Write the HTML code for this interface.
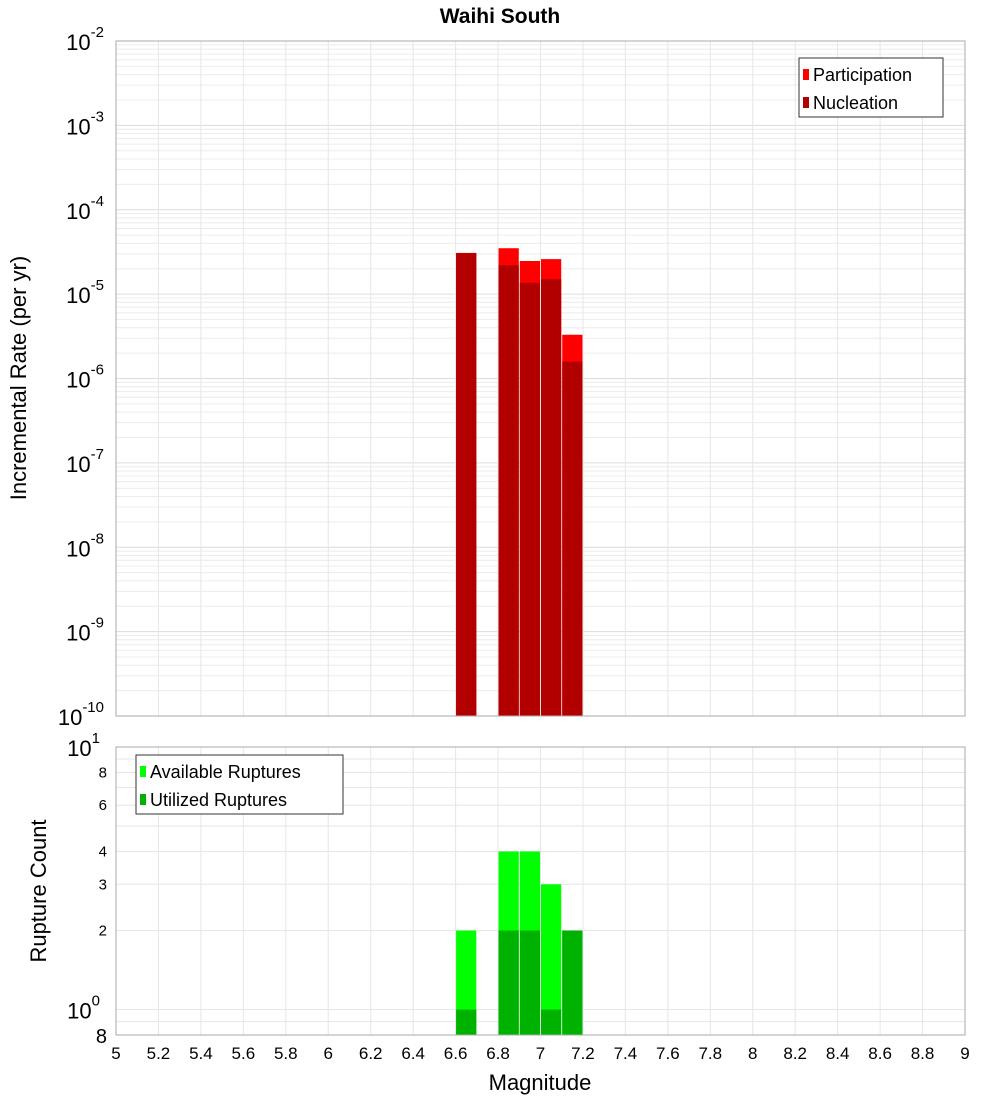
<!DOCTYPE html>
<html><head><meta charset="utf-8">
<style>
html,body{margin:0;padding:0;background:#fff;}
svg{display:block;font-family:"Liberation Sans","DejaVu Sans",sans-serif;}
</style></head>
<body>
<svg id="chart" width="1000" height="1100" viewBox="0 0 1000 1100" xmlns="http://www.w3.org/2000/svg">
<text x="500" y="23" text-anchor="middle" font-size="21" font-weight="bold">Waihi South</text>
<g id="topg"></g>
<g id="botg"></g>
</svg>
<script>
const mags = [6.65, 6.85, 6.95, 7.05, 7.15];
const participation = [3.08e-5, 3.5e-5, 2.47e-5, 2.6e-5, 3.3e-6];
const nucleation = [3.05e-5, 2.2e-5, 1.36e-5, 1.5e-5, 1.58e-6];
const available = [2, 4, 4, 3, 2];
const utilized = [1, 2, 2, 1, 2];
const xTicks = [5,5.2,5.4,5.6,5.8,6,6.2,6.4,6.6,6.8,7,7.2,7.4,7.6,7.8,8,8.2,8.4,8.6,8.8,9];
const topExps = [-2,-3,-4,-5,-6,-7,-8,-9,-10];
const botTicks = [8,6,4,3,2];

const NS = "http://www.w3.org/2000/svg";
const X0 = 116, X1 = 965;
const xs = v => X0 + (v - 5) / 4 * (X1 - X0);
const T0 = 41, T1 = 716;
const ty = v => T0 + (-2 - Math.log10(v)) / 8 * (T1 - T0);
const B0 = 747, B1 = 1035;
const by = v => B0 + (1 - Math.log10(v)) / (1 - Math.log10(0.8)) * (B1 - B0);

function el(tag, attrs, parent, txt) {
  const e = document.createElementNS(NS, tag);
  for (const k in attrs) e.setAttribute(k, attrs[k]);
  if (txt !== undefined) e.textContent = txt;
  parent.appendChild(e);
  return e;
}
const svgEl = document.getElementById('chart');
const topG = document.getElementById('topg');
const botG = document.getElementById('botg');

for (let d = -10; d < -2; d++) {
  for (let m = 1; m <= 9; m++) {
    const y = ty(m * Math.pow(10, d));
    const g = el('line', {x1: X0, x2: X1, y1: y, y2: y, stroke: m === 1 ? '#dcdcdc' : '#ececec', 'stroke-width': 1}, topG);
    
    
  }
}
[0.8,0.9,1,2,3,4,5,6,7,8,9].forEach(v => {
  const y = by(v);
  const g = el('line', {x1: X0, x2: X1, y1: y, y2: y, stroke: '#e6e6e6', 'stroke-width': 1}, botG);
  
  
});
xTicks.forEach(v => {
  [[T0, T1, topG], [B0, B1, botG]].forEach(([a, b, p]) => {
    const g = el('line', {x1: xs(v), x2: xs(v), y1: a, y2: b, stroke: '#e6e6e6', 'stroke-width': 1}, p);
    
    
  });
});

const bw = (X1 - X0) / 40;
mags.forEach((m, i) => {
  const x = xs(m) - bw / 2 + 0.5;
  const p = el('rect', {x: x, y: ty(participation[i]), width: bw - 1, height: T1 - ty(participation[i]), fill: '#ff0000'}, topG);
  
  
  const n = el('rect', {x: x, y: ty(nucleation[i]), width: bw - 1, height: T1 - ty(nucleation[i]), fill: '#b20000'}, topG);
  
  
  const a = el('rect', {x: x, y: by(available[i]), width: bw - 1, height: B1 - by(available[i]), fill: '#00ff00'}, botG);
  
  
  const u = el('rect', {x: x, y: by(utilized[i]), width: bw - 1, height: B1 - by(utilized[i]), fill: '#00b200'}, botG);
  
  
});

[[T0, T1, topG], [B0, B1, botG]].forEach(([a, b, p]) => {
  const f = el('rect', {x: X0, y: a, width: X1 - X0, height: b - a, fill: 'none', stroke: '#aaaaaa', 'stroke-width': 1}, p);
  
  
});

topExps.forEach(e => {
  const y = ty(Math.pow(10, e));
  const t = el('text', {x: 104, y: y + 9, 'text-anchor': 'end', 'font-size': 22}, topG);
  
  
  el('tspan', {}, t, '10');
  el('tspan', {dy: -13, 'font-size': 15}, t, String(e));
});
{
  const t = el('text', {x: 100, y: by(10) + 9, 'text-anchor': 'end', 'font-size': 22}, botG);
  
  
  el('tspan', {}, t, '10');
  el('tspan', {dy: -13, 'font-size': 15}, t, '1');
  const t2 = el('text', {x: 100, y: by(1) + 9, 'text-anchor': 'end', 'font-size': 22}, botG);
  
  
  el('tspan', {}, t2, '10');
  el('tspan', {dy: -13, 'font-size': 15}, t2, '0');
  const t3 = el('text', {x: 107, y: by(0.8) + 8, 'text-anchor': 'end', 'font-size': 20}, botG, '8');
  
  
}
botTicks.forEach(v => {
  const t = el('text', {x: 107, y: by(v) + 5, 'text-anchor': 'end', 'font-size': 15}, botG, String(v));
  
  
});
xTicks.forEach(v => {
  const t = el('text', {x: xs(v), y: 1059, 'text-anchor': 'middle', 'font-size': 17}, botG, String(Math.round(v * 10) / 10));
  
  
});
{
  const t = el('text', {x: 540, y: 1090, 'text-anchor': 'middle', 'font-size': 22}, svgEl, 'Magnitude');
  
  
  const y1 = el('text', {x: 0, y: 0, 'text-anchor': 'middle', 'font-size': 22, transform: 'translate(26,378) rotate(-90)'}, svgEl, 'Incremental Rate (per yr)');
  
  
  const y2 = el('text', {x: 0, y: 0, 'text-anchor': 'middle', 'font-size': 22, transform: 'translate(46,891) rotate(-90)'}, svgEl, 'Rupture Count');
  
  
}
function legend(p, x, y, w, h, items, name) {
  const g = el('g', {}, p);
  
  
  el('rect', {x: x, y: y, width: w, height: h, fill: '#fff', stroke: '#333', 'stroke-width': 1}, g);
  items.forEach(([c, lab], i) => {
    const yy = y + 16 + i * 28;
    el('rect', {x: x + 4, y: yy - 5, width: 6, height: 11, fill: c}, g);
    const t = el('text', {x: x + 14, y: yy + 7, 'font-size': 18}, g, lab);
    
    
  });
}
legend(topG, 799, 58, 144, 59, [['#ff0000', 'Participation'], ['#b20000', 'Nucleation']], 'legend-top');
legend(botG, 136, 755, 207, 59, [['#00ff00', 'Available Ruptures'], ['#00b200', 'Utilized Ruptures']], 'legend-bottom');
</script>
</body></html>
